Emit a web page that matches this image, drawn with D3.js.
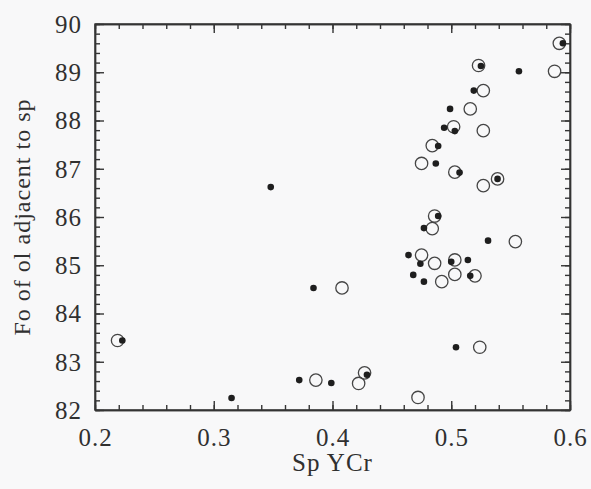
<!DOCTYPE html>
<html>
<head>
<meta charset="utf-8">
<script src="https://cdn.jsdelivr.net/npm/d3@7"></script>
<style>
  body { margin: 0; background: #f8f8f9; }
  .axis path, .axis line { stroke: #353535; stroke-width: 1.4; }
  .open { fill: none; stroke: #454545; stroke-width: 1.3; }
  .filled { fill: #1e1e1e; }
</style>
</head>
<body>
<script>
// filled dots: [Sp YCr, Fo]
var filledX = [0.594, 0.525, 0.557, 0.519, 0.499, 0.494, 0.503, 0.489, 0.487, 0.507,
               0.539, 0.489, 0.477, 0.531, 0.348, 0.223, 0.315, 0.372, 0.399, 0.429,
               0.504, 0.384, 0.464, 0.474, 0.468, 0.477, 0.500, 0.514, 0.516];
var filledY = [89.60, 89.13, 89.02, 88.62, 88.24, 87.85, 87.78, 87.47, 87.11, 86.92,
               86.79, 86.02, 85.77, 85.51, 86.62, 83.44, 82.25, 82.62, 82.56, 82.73,
               83.30, 84.53, 85.21, 85.03, 84.80, 84.66, 85.07, 85.11, 84.78];
// open circles
var openX = [0.591, 0.523, 0.587, 0.527, 0.516, 0.502, 0.527, 0.484, 0.475, 0.503,
             0.539, 0.527, 0.486, 0.484, 0.554, 0.219, 0.408, 0.386, 0.422, 0.427,
             0.472, 0.524, 0.475, 0.486, 0.492, 0.503, 0.503, 0.520];
var openY = [89.60, 89.14, 89.02, 88.62, 88.24, 87.87, 87.79, 87.48, 87.11, 86.93,
             86.79, 86.65, 86.02, 85.76, 85.49, 83.44, 84.53, 82.62, 82.55, 82.77,
             82.26, 83.30, 85.21, 85.04, 84.66, 85.11, 84.81, 84.78];
var xTicks = [0.2, 0.3, 0.4, 0.5, 0.6];
var yTicks = [82, 83, 84, 85, 86, 87, 88, 89, 90];

var w = 591;
var h = 489;
var margin = {top: 24, bottom: 79, left: 95, right: 21};
var width = w - margin.left - margin.right;
var height = h - margin.top - margin.bottom;
var serif = '"Liberation Serif", Tinos, "Times New Roman", serif';

var svg = d3.select('body').append('svg')
            .attr('width', w)
            .attr('height', h)
var chart = svg.append('g')
              .attr('transform', 'translate(' + margin.left + ',' + margin.top + ')')

var x = d3.scaleLinear()
          .domain([0.2, 0.6])
          .range([0, width])
var y = d3.scaleLinear()
          .domain([82, 90])
          .range([height, 0])

var xMinor = d3.range(0.2, 0.6001, 0.02).map(function(d){ return +d.toFixed(2) })
var yMinor = d3.range(82, 90.001, 0.2).map(function(d){ return +d.toFixed(1) })

// ticks point inward on all four sides
function drawAxis(axisFn, scale, values, size, transform, fmt){
  var g = chart.append('g')
      .classed('axis', true)
      .attr('transform', transform)
      .call(axisFn(scale).tickValues(values).tickSize(size).tickSizeOuter(0).tickFormat(fmt || ''))
  g.attr('font-family', null)
  return g
}

drawAxis(d3.axisBottom, x, xMinor, -5, 'translate(0,' + height + ')')
drawAxis(d3.axisTop, x, xMinor, -5, 'translate(0,0)')
drawAxis(d3.axisLeft, y, yMinor, -5, 'translate(0,0)')
drawAxis(d3.axisRight, y, yMinor, -5, 'translate(' + width + ',0)')

var bx = drawAxis(d3.axisBottom, x, xTicks, -9, 'translate(0,' + height + ')', d3.format('.1f'))
bx.selectAll('text')
  .attr('y', 36)
  .attr('dy', 0)
  .attr('fill', '#303030')
  .style('font-family', serif)
  .style('font-size', '25px')
  .style('letter-spacing', '1px')
drawAxis(d3.axisTop, x, xTicks, -9, 'translate(0,0)')
var ly = drawAxis(d3.axisLeft, y, yTicks, -9, 'translate(0,0)', d3.format('d'))
ly.selectAll('text')
  .attr('x', -13)
  .attr('dy', '0.33em')
  .attr('fill', '#303030')
  .style('font-family', serif)
  .style('font-size', '25px')
  .style('letter-spacing', '1px')
drawAxis(d3.axisRight, y, yTicks, -9, 'translate(' + width + ',0)')

// frame
chart.append('rect')
     .attr('width', width)
     .attr('height', height)
     .attr('fill', 'none')
     .attr('stroke', '#353535')
     .attr('stroke-width', 1.4)

// points
var openData = openX.map(function(d, i){ return {x: d, y: openY[i]} })
var filledData = filledX.map(function(d, i){ return {x: d, y: filledY[i]} })

chart.selectAll('.open')
     .data(openData)
     .enter()
       .append('circle')
       .classed('open', true)
       .attr('cx', function(d){ return x(d.x) })
       .attr('cy', function(d){ return y(d.y) })
       .attr('r', 6.2)
chart.selectAll('.filled')
     .data(filledData)
     .enter()
       .append('circle')
       .classed('filled', true)
       .attr('cx', function(d){ return x(d.x) })
       .attr('cy', function(d){ return y(d.y) })
       .attr('r', 3.3)

// axis titles
svg.append('text')
   .attr('x', margin.left + width / 2)
   .attr('y', 471)
   .attr('text-anchor', 'middle')
   .attr('fill', '#303030')
   .style('font-family', serif)
   .style('font-size', '25px')
   .style('letter-spacing', '1px')
   .text('Sp YCr')
svg.append('text')
   .attr('transform', 'translate(30,' + (margin.top + height / 2) + ') rotate(-90)')
   .attr('text-anchor', 'middle')
   .attr('fill', '#303030')
   .style('font-family', serif)
   .style('font-size', '24px')
   .style('letter-spacing', '1px')
   .text('Fo of ol adjacent to sp')
</script>
</body>
</html>
